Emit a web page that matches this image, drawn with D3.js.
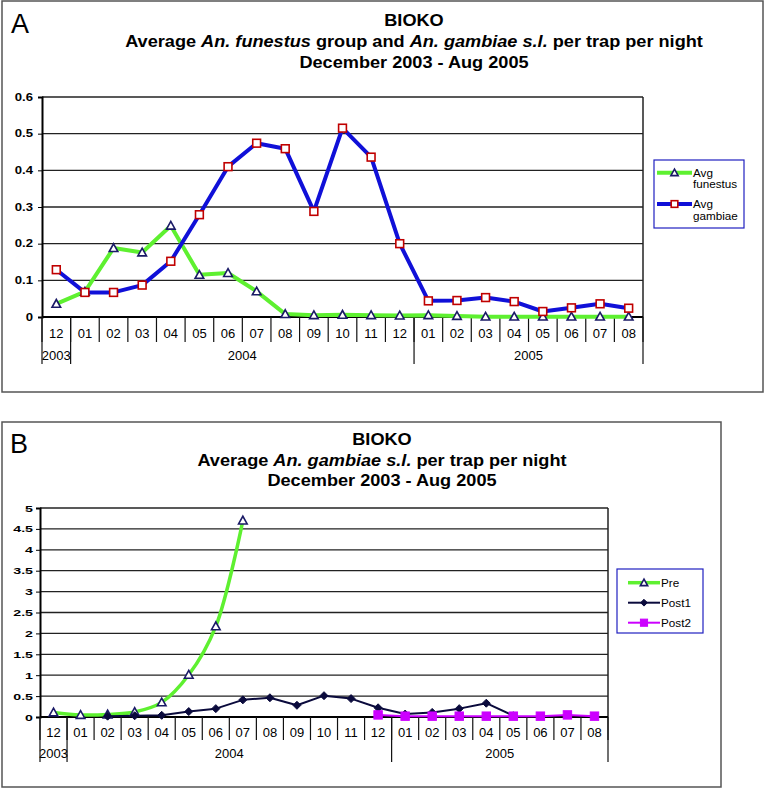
<!DOCTYPE html>
<html><head><meta charset="utf-8">
<script src="https://cdn.jsdelivr.net/npm/d3@7"></script>
<style>
html,body{margin:0;padding:0;background:#fff;}
svg{display:block;font-family:Arial,"Liberation Sans",sans-serif;}
</style></head>
<body>
<svg id="chart" width="765" height="789"></svg>
<script>
// ---------- DATA ----------
const months = ["12","01","02","03","04","05","06","07","08","09","10","11","12","01","02","03","04","05","06","07","08"];
const yearGroups = [ {label:"2003", count:1}, {label:"2004", count:12}, {label:"2005", count:8} ];

// Panel A
const funestusA = [0.036,0.069,0.188,0.176,0.249,0.115,0.12,0.07,0.008,0.005,0.006,0.005,0.004,0.005,0.003,0.001,0.001,0.001,0.001,0.001,0.001];
const gambiaeA  = [0.129,0.067,0.067,0.087,0.152,0.279,0.41,0.474,0.459,0.288,0.515,0.436,0.2,0.044,0.045,0.053,0.042,0.015,0.025,0.036,0.024];
const ticksA = [0,0.1,0.2,0.3,0.4,0.5,0.6];

// Panel B (null = no value)
const preB   = [0.11,0.05,0.06,0.12,0.35,1.01,2.17,4.7,null,null,null,null,null,null,null,null,null,null,null,null,null];
const post1B = [null,null,0.02,0.03,0.04,0.13,0.2,0.41,0.46,0.28,0.51,0.44,0.22,0.07,0.11,0.2,0.33,0.03,null,null,null];
const post2B = [null,null,null,null,null,null,null,null,null,null,null,null,0.05,0.02,0.02,0.02,0.02,0.02,0.02,0.05,0.02];
const ticksB = [0,0.5,1,1.5,2,2.5,3,3.5,4,4.5,5];

// ---------- STYLE ----------
const GREEN = "#5ef030", BLUE = "#1010d8", NAVY = "#1a1a66", RED = "#c00000", DARK = "#0a0a3c", MAGENTA = "#cc00ff";

const svg = d3.select("#chart");

function stretchedText(g, x, y, txt, size, sx, anchor, weight){
  return g.append("text").attr("transform",`translate(${x},${y}) scale(${sx},1)`)
    .attr("text-anchor",anchor).attr("font-size",size).attr("font-weight",weight||"normal").attr("fill","#000").text(txt);
}

function panel(cfg){
  const g = svg.append("g");
  // outer box
  g.append("rect").attr("x",cfg.box[0]).attr("y",cfg.box[1]).attr("width",cfg.box[2]-cfg.box[0]).attr("height",cfg.box[3]-cfg.box[1])
    .attr("fill","#fff").attr("stroke","#555").attr("stroke-width",1.5);
  // panel letter
  g.append("text").attr("x",cfg.letterPos[0]).attr("y",cfg.letterPos[1]).attr("font-size",27).text(cfg.letter);
  // title
  cfg.title.forEach((line,i)=>{
    const t = g.append("text").attr("transform",`translate(${cfg.titleX},${cfg.titleY[i]}) scale(1.1,1)`)
      .attr("text-anchor","middle").attr("font-weight","bold").attr("font-size",16.5);
    line.forEach(seg=>{
      t.append("tspan").attr("font-style",seg.i?"italic":"normal").text(seg.t);
    });
  });

  const x = d3.scaleBand().domain(d3.range(months.length)).range([cfg.plot[0],cfg.plot[2]]).padding(0);
  const y = d3.scaleLinear().domain([0,cfg.ymax]).range([cfg.plot[3],cfg.plot[1]]);

  // gridlines
  g.append("g").selectAll("line").data(cfg.ticks).join("line")
    .attr("x1",cfg.plot[0]).attr("x2",cfg.plot[2]).attr("y1",d=>y(d)).attr("y2",d=>y(d))
    .attr("stroke","#222").attr("stroke-width",1.3);
  // right frame
  g.append("line").attr("x1",cfg.plot[2]).attr("x2",cfg.plot[2]).attr("y1",cfg.plot[1]).attr("y2",cfg.plot[3]).attr("stroke","#222").attr("stroke-width",1.5);

  // y axis
  const ya = d3.axisLeft(y).tickValues(cfg.ticks).tickSize(4).tickFormat("");
  const yg = g.append("g").attr("transform",`translate(${cfg.plot[0]},0)`).call(ya);
  yg.select(".domain").attr("stroke","#000").attr("stroke-width",2);
  yg.selectAll(".tick line").attr("stroke","#000");
  cfg.ticks.forEach(v=>{
    stretchedText(g, cfg.plot[0]-cfg.yLabGap, y(v)+cfg.yTickSize*0.36, d3.format("~g")(v), cfg.yTickSize, cfg.yTickSx, "end", "bold");
  });

  // x axis: months
  const y0 = cfg.plot[3];
  g.append("line").attr("x1",cfg.plot[0]).attr("x2",cfg.plot[2]).attr("y1",y0).attr("y2",y0).attr("stroke","#000").attr("stroke-width",2);
  const bw = x.bandwidth();
  g.append("g").selectAll("line").data(d3.range(months.length+1)).join("line")
    .attr("x1",i=>cfg.plot[0]+i*bw).attr("x2",i=>cfg.plot[0]+i*bw)
    .attr("y1",y0).attr("y2",y0+cfg.monthTick).attr("stroke","#111").attr("stroke-width",1.2);
  g.append("g").selectAll("text").data(months).join("text")
    .attr("x",(d,i)=>x(i)+bw/2).attr("y",y0+cfg.monthY).attr("text-anchor","middle").attr("font-size",13).text(d=>d);
  // years
  let start = 0;
  const bounds = [0];
  yearGroups.forEach(gr=>{
    const cx = cfg.plot[0] + (start + gr.count/2)*bw;
    g.append("text").attr("x",cx).attr("y",y0+cfg.yearY).attr("text-anchor","middle").attr("font-size",13).text(gr.label);
    start += gr.count; bounds.push(start);
  });
  g.append("g").selectAll("line").data(bounds).join("line")
    .attr("x1",i=>cfg.plot[0]+i*bw).attr("x2",i=>cfg.plot[0]+i*bw)
    .attr("y1",y0).attr("y2",y0+cfg.yearTick).attr("stroke","#111").attr("stroke-width",1.2);

  // series
  cfg.series.forEach(s=>{
    const pts = s.values.map((v,i)=>({i,v})).filter(d=>d.v!==null);
    const line = d3.line().x(d=>x(d.i)+bw/2).y(d=>y(d.v)).curve(s.smooth?d3.curveCatmullRom.alpha(0.5):d3.curveLinear);
    g.append("path").datum(pts).attr("d",line).attr("fill","none").attr("stroke",s.color).attr("stroke-width",s.width).attr("stroke-linejoin","round");
  });
  cfg.series.forEach(s=>{
    const pts = s.values.map((v,i)=>({i,v})).filter(d=>d.v!==null);
    pts.forEach(d=>drawMarker(g, s.marker, x(d.i)+bw/2, y(d.v)));
  });

  // legend
  const L = cfg.legend;
  g.append("rect").attr("x",L.box[0]).attr("y",L.box[1]).attr("width",L.box[2]-L.box[0]).attr("height",L.box[3]-L.box[1])
    .attr("fill","#fff").attr("stroke","#2020c0").attr("stroke-width",1.2);
  cfg.series.forEach((s,k)=>{
    const ly = L.rows[k];
    g.append("line").attr("x1",L.lx[0]).attr("x2",L.lx[1]).attr("y1",ly).attr("y2",ly).attr("stroke",s.color).attr("stroke-width",s.width);
    drawMarker(g, s.marker, (L.lx[0]+L.lx[1])/2, ly, 0.85);
    const tx = g.append("text").attr("font-size",11.7).attr("fill","#000");
    s.label.forEach((ln,j)=>{
      tx.append("tspan").attr("x",L.tx).attr("y",ly+4+j*11.5).text(ln);
    });
  });
}

function drawMarker(g, m, cx, cy, sc=1){
  if(m==="tri"){
    const r=4.3*sc;
    g.append("path").attr("d",`M${cx},${cy-r}L${cx+r},${cy+r*0.8}L${cx-r},${cy+r*0.8}Z`).attr("fill","#fff").attr("stroke",NAVY).attr("stroke-width",1.6);
  } else if(m==="sqOpen"){
    const r=3.9*sc;
    g.append("rect").attr("x",cx-r).attr("y",cy-r).attr("width",2*r).attr("height",2*r).attr("fill","#fff").attr("stroke",RED).attr("stroke-width",1.6);
  } else if(m==="diamond"){
    const r=4*sc;
    g.append("path").attr("d",`M${cx},${cy-r}L${cx+r},${cy}L${cx},${cy+r}L${cx-r},${cy}Z`).attr("fill",DARK).attr("stroke",DARK).attr("stroke-width",1);
  } else if(m==="sqFill"){
    const r=4.2*sc;
    g.append("rect").attr("x",cx-r).attr("y",cy-r).attr("width",2*r).attr("height",2*r).attr("fill",MAGENTA).attr("stroke",MAGENTA).attr("stroke-width",1);
  }
}

panel({
  box:[2,1,763,392], letter:"A", letterPos:[11,33],
  titleX:414, titleY:[26,47,68],
  title:[
    [{t:"BIOKO"}],
    [{t:"Average "},{t:"An. funestus",i:true},{t:" group and "},{t:"An. gambiae s.l.",i:true},{t:" per trap per night"}],
    [{t:"December 2003 - Aug 2005"}]
  ],
  plot:[42,97,643,317], ymax:0.6, ticks:ticksA, yTickSize:10.5, yTickSx:1.25, yLabGap:9,
  monthTick:25, monthY:21, yearTick:47, yearY:43,
  series:[
    {values:funestusA, color:GREEN, width:4, marker:"tri", label:["Avg","funestus"]},
    {values:gambiaeA, color:BLUE, width:4, marker:"sqOpen", label:["Avg","gambiae"]}
  ],
  legend:{box:[654,160,744,228], rows:[172.7,204], lx:[657,692], tx:693}
});

panel({
  box:[2,422,721,787], letter:"B", letterPos:[10,453],
  titleX:382, titleY:[445,466,486],
  title:[
    [{t:"BIOKO"}],
    [{t:"Average "},{t:"An. gambiae s.l.",i:true},{t:" per trap per night"}],
    [{t:"December 2003 - Aug 2005"}]
  ],
  plot:[40,508,608,717], ymax:5, ticks:ticksB, yTickSize:9.8, yTickSx:1.45, yLabGap:7,
  monthTick:23, monthY:20, yearTick:45, yearY:41,
  series:[
    {values:preB, color:GREEN, width:3.5, marker:"tri", smooth:true, label:["Pre"]},
    {values:post1B, color:DARK, width:2, marker:"diamond", label:["Post1"]},
    {values:post2B, color:MAGENTA, width:2, marker:"sqFill", label:["Post2"]}
  ],
  legend:{box:[617,569,703,633], rows:[582.7,602.7,622.7], lx:[628,660], tx:661}
});
</script>
</body></html>
